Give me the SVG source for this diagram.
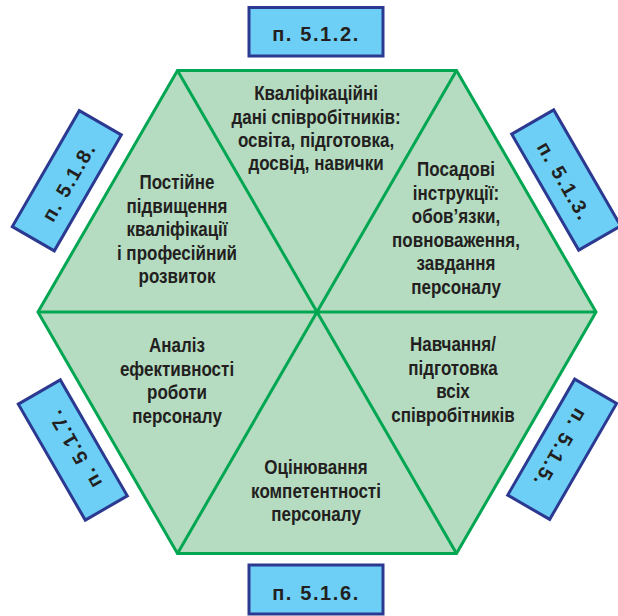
<svg xmlns="http://www.w3.org/2000/svg" width="618" height="616" viewBox="0 0 618 616">
<style>
.hex{fill:#b5dcc0;stroke:#00a651;stroke-width:3;stroke-linejoin:miter}
.ln{stroke:#00a651;stroke-width:3;fill:none}
.box{fill:#6dcff6;stroke:#2b3990;stroke-width:3}
.bt{font-family:"Liberation Sans",Arial,sans-serif;font-weight:bold;font-size:20px;fill:#231f20;text-anchor:middle;letter-spacing:1.6px}
.t{font-family:"Liberation Sans",Arial,sans-serif;font-weight:bold;font-size:21px;fill:#231f20;text-anchor:middle}
</style>
<g id="hexagon">
<polygon class="hex" points="38,312 177.5,70.4 456.5,70.4 596,312 456.5,553.6 177.5,553.6"/>
</g>
<g id="connectors">
<line class="ln" x1="38" y1="312" x2="596" y2="312"/>
<line class="ln" x1="177.5" y1="70.4" x2="456.5" y2="553.6"/>
<line class="ln" x1="456.5" y1="70.4" x2="177.5" y2="553.6"/>
</g>
<g id="seg-top">
<text class="t" transform="translate(316,100) scale(0.81,1)">Кваліфікаційні</text>
<text class="t" transform="translate(316,124) scale(0.81,1)">дані співробітників:</text>
<text class="t" transform="translate(316,147) scale(0.81,1)">освіта, підготовка,</text>
<text class="t" transform="translate(316,170) scale(0.81,1)">досвід, навички</text>
</g>
<g id="seg-upper-right">
<text class="t" transform="translate(456,176) scale(0.81,1)">Посадові</text>
<text class="t" transform="translate(456,199.5) scale(0.81,1)">інструкції:</text>
<text class="t" transform="translate(456,223) scale(0.81,1)">обов’язки,</text>
<text class="t" transform="translate(456,246.5) scale(0.81,1)">повноваження,</text>
<text class="t" transform="translate(456,270) scale(0.81,1)">завдання</text>
<text class="t" transform="translate(456,293.5) scale(0.81,1)">персоналу</text>
</g>
<g id="seg-upper-left">
<text class="t" transform="translate(177,189) scale(0.81,1)">Постійне</text>
<text class="t" transform="translate(177,212.5) scale(0.81,1)">підвищення</text>
<text class="t" transform="translate(177,236) scale(0.81,1)">кваліфікації</text>
<text class="t" transform="translate(177,259.5) scale(0.81,1)">і професійний</text>
<text class="t" transform="translate(177,283) scale(0.81,1)">розвиток</text>
</g>
<g id="seg-lower-left">
<text class="t" transform="translate(177,352) scale(0.81,1)">Аналіз</text>
<text class="t" transform="translate(177,375.5) scale(0.81,1)">ефективності</text>
<text class="t" transform="translate(177,399) scale(0.81,1)">роботи</text>
<text class="t" transform="translate(177,422.5) scale(0.81,1)">персоналу</text>
</g>
<g id="seg-lower-right">
<text class="t" transform="translate(453,351) scale(0.81,1)">Навчання/</text>
<text class="t" transform="translate(453,374.5) scale(0.81,1)">підготовка</text>
<text class="t" transform="translate(453,398) scale(0.81,1)">всіх</text>
<text class="t" transform="translate(453,421.5) scale(0.81,1)">співробітників</text>
</g>
<g id="seg-bottom">
<text class="t" transform="translate(316,474) scale(0.81,1)">Оцінювання</text>
<text class="t" transform="translate(316,497.5) scale(0.81,1)">компетентності</text>
<text class="t" transform="translate(316,521) scale(0.81,1)">персоналу</text>
</g>
<g id="ref-512">
<rect class="box" x="249" y="7.5" width="134" height="48.5"/>
<text class="bt" x="316" y="41">п. 5.1.2.</text>
</g>
<g id="ref-513" transform="translate(7,9) rotate(60 317 312)">
<rect class="box" x="249" y="7.5" width="134" height="48.5"/>
<text class="bt" x="316" y="41">п. 5.1.3.</text>
</g>
<g id="ref-515" transform="translate(2,-2) rotate(120 317 312)">
<rect class="box" x="249" y="7.5" width="134" height="48.5"/>
<text class="bt" x="316" y="41">п. 5.1.5.</text>
</g>
<g id="ref-517" transform="translate(-2,-3) rotate(-120 317 312)">
<rect class="box" x="249" y="7.5" width="134" height="48.5"/>
<text class="bt" x="316" y="41">п. 5.1.7.</text>
</g>
<g id="ref-518" transform="translate(-7,8) rotate(-60 317 312)">
<rect class="box" x="249" y="7.5" width="134" height="48.5"/>
<text class="bt" x="316" y="41">п. 5.1.8.</text>
</g>
<g id="ref-516">
<rect class="box" x="249" y="565" width="134" height="49"/>
<text class="bt" x="316" y="600">п. 5.1.6.</text>
</g>
</svg>
